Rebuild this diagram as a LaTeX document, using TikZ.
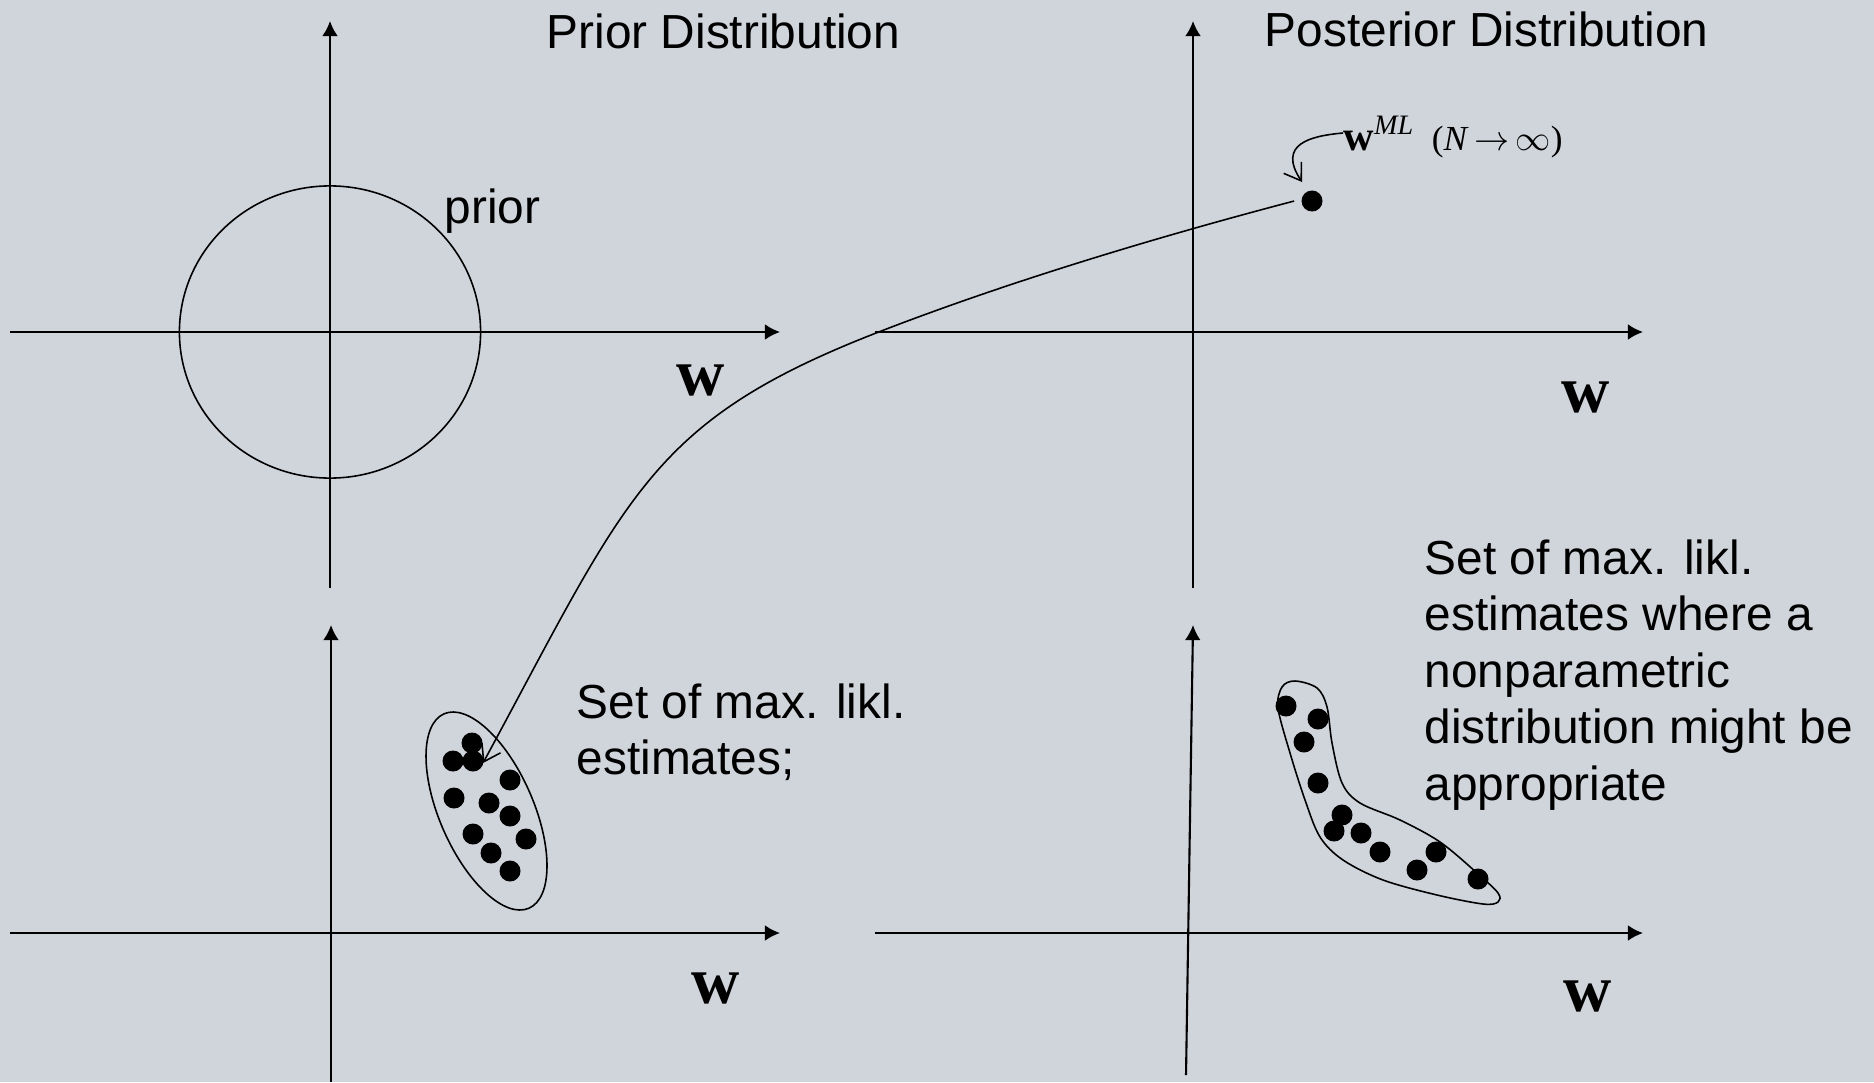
\documentclass[tikz,border=0pt]{standalone}
\usepackage{fontspec}
\setmainfont{Liberation Sans}
\newfontfamily\tms{Liberation Serif}
\usetikzlibrary{arrows.meta}
\definecolor{bg}{RGB}{208,212,219}
\begin{document}
\begin{tikzpicture}[x=0.01cm,y=-0.01cm,
  axis/.style={line width=0.6pt,-{Latex[length=4.3pt,width=4.5pt]}},
  dot/.style={circle,fill=black,inner sep=0pt,minimum size=0.21cm},
  lbl/.style={font=\fontsize{13.6}{16.1}\selectfont,inner sep=0pt,anchor=base west},
  wlab/.style={font=\tms\bfseries\fontsize{19}{19}\selectfont,inner sep=0pt,anchor=base},
  outline/.style={line width=0.45pt},
  barb/.style={line width=0.45pt,-{Straight Barb[length=4.5pt,width=6pt]}}]
\fill[bg] (0,0) rectangle (1874,1082);
\useasboundingbox (0,0) rectangle (1874,1082);

% axes
\draw[axis] (330,588) -- (330,21);
\draw[axis] (10,332) -- (780,332);
\draw[axis] (1193,588) -- (1193,21);
\draw[axis] (875,332) -- (1643,332);
\draw[axis] (331,1082) -- (331,625);
\draw[axis] (10,933) -- (780,933);
\draw[axis] (1186,1075) -- (1193,625);
\draw[axis] (875,933) -- (1643,933);

% titles and labels
\node[lbl] (prior title) at (546,49) {Prior Distribution};
\node[lbl] (post title) at (1264,47) {Posterior Distribution};
\node[lbl] (prior) at (444,223) {prior};
\node[wlab] (w1) at (701,395) {w};
\node[wlab] (w2) at (1586,412) {w};
\node[wlab] (w3) at (716,1003) {w};
\node[wlab] (w4) at (1588,1011) {w};

\node[lbl] (txt1) at (576,718) {\begin{tabular}[t]{@{}l@{}}Set of max. likl.\\estimates;\end{tabular}};
\node[lbl] (txt2) at (1424,574) {\begin{tabular}[t]{@{}l@{}}Set of max. likl.\\estimates where a\\nonparametric\\distribution might be\\appropriate\end{tabular}};

% prior circle
\draw[outline] (330,332) ellipse [x radius=1.505cm, y radius=1.46cm];

% ML estimate set ellipse
\draw[outline, rotate around={23.6:(486.5,811)}] (486.5,811) ellipse [x radius=0.47cm, y radius=1.06cm];
\foreach \x/\y [count=\i] in {472/743,453/761,473/761,510/780,454/798,489/803,510/816,473/834,526/839,491/853,510/871}
  \node[dot] (a\i) at (\x,\y) {};

% nonparametric set
\draw[outline] plot[smooth cycle, tension=0.55] coordinates {
 (1282,687) (1295,681) (1317,688) (1327,707) (1332,743) (1342,783) (1360,803)
 (1400,820) (1440,842) (1477,873) (1498,893) (1498,902) (1483,904) (1437,895)
 (1383,880) (1343,860) (1320,837) (1305,800) (1290,753) (1278,708)};
\foreach \x/\y [count=\i] in {1286/706,1318/719,1304/742,1318/783,1342/815,1334/831,1361/833,1380/852,1436/852,1417/870,1478/879}
  \node[dot] (b\i) at (\x,\y) {};

% ML point
\node[dot] (ml) at (1312,201) {};
\node[inner sep=0pt,anchor=base west,font=\tms\fontsize{12}{14}\selectfont] (mllab) at (1343,150)
  {\textbf{w}\textsuperscript{\itshape ML}\hspace{0.4em}{\fontsize{10}{12}\selectfont(\textit{N}\,$\rightarrow$\,$\infty$)}};
\coordinate (mlstart) at (1343,133);
\coordinate (mltip) at (1302,182);
\coordinate (bend) at (871,335);
\coordinate (tip) at (483,763);

\draw[barb] (mlstart) .. controls (1310,136) and (1277,144) .. (mltip);
\draw[barb, shorten <=2pt] (ml.171) .. controls (1100,252) and (960,300) .. (bend)
  .. controls (648,423) and (626,499) .. (tip);
\end{tikzpicture}
\end{document}
